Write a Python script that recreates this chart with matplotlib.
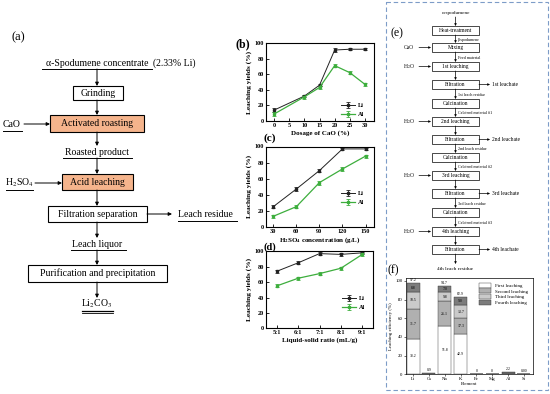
import matplotlib
matplotlib.use("Agg")
from matplotlib import pyplot as plt
from matplotlib.patches import Rectangle, Patch
import numpy as np

plt.rcParams['font.family'] = ['Liberation Serif', 'DejaVu Serif']
plt.rcParams['mathtext.fontset'] = 'stix'

# ---- data: (b) CaO dosage
cao_dose = [0, 10, 15, 20, 25, 30]
cao_li = [14, 32, 46, 91, 92, 92]
cao_al = [9, 31, 43, 71, 62, 47]
cao_li_err = [2.5, 1.5, 1.5, 2, 1.5, 1.5]
cao_al_err = [2, 2.5, 2, 2, 1.5, 1.5]

# ---- (c) H2SO4 concentration
acid_conc = [30, 60, 90, 120, 150]
acid_li = [25, 47, 70, 97, 97]
acid_al = [13, 25, 55, 72, 88]
acid_li_err = [2, 2, 2, 1.5, 1.5]
acid_al_err = [2, 1.5, 2.5, 2, 2]

# ---- (d) liquid-solid ratio
ratio_labels = ['5:1', '6:1', '7:1', '8:1', '9:1']
ratio_li = [74, 85, 97, 96, 98]
ratio_al = [55, 65, 71, 78, 96]
ratio_li_err = [2, 2, 2, 2, 1.5]
ratio_al_err = [2, 2, 2, 2, 2]

# ---- (f) stacked leaching efficiency
elements = ['Li', 'Cs', 'Na', 'K', 'Fe', 'Mg', 'Al', 'Si']
first_leach = [38.2, 0.4, 51.8, 42.9, 0, 0, 0.8, 0]
second_leach = [31.7, 0.2, 26.1, 17.3, 0, 0, 0.5, 0]
third_leach = [18.5, 0.2, 9.8, 13.7, 0, 0, 0.5, 0]
fourth_leach = [8.8, 0.1, 7.0, 9.0, 0, 0, 0.4, 0]
total_labels = ['97.2', '0.9', '94.7', '82.9', '0', '0', '2.2', '0.00']
stage_names = ['First leaching', 'Second leaching', 'Third leaching', 'Fourth leaching']

# ---- (a) flowchart text
a_feed = "α-Spodumene concentrate"
a_feed_note = "(2.33% Li)"
a_steps = ["Grinding", "Activated roasting", "Acid leaching",
           "Filtration separation", "Purification and precipitation"]
a_products = ["Roasted product", "Leach liquor", "Li$_2$CO$_3$"]

# ---- (e) flowchart text
e_boxes = ["Heat-treatment", "Mixing", "1st leaching", "Filtration", "Calcination",
           "2nd leaching", "Filtration", "Calcination", "3rd leaching", "Filtration",
           "Calcination", "4th leaching", "Filtration"]
e_between = ["β-spodumene", "Feed material", "", "1st leach residue",
             "Calcined material #1", "", "2nd leach residue", "Calcined material #2",
             "", "3rd leach residue", "Calcined material #3", ""]
e_left = {1: "CaO", 2: "H$_2$O", 5: "H$_2$O", 8: "H$_2$O", 11: "H$_2$O"}
e_right = {3: "1st leachate", 6: "2nd leachate", 9: "3rd leachate", 12: "4th leachate"}

W, H = 550, 394
GREEN = '#3dae3d'
ORANGE = '#f5b48c'


def frac(l, t, r, b):
  return [l / W, 1 - b / H, (r - l) / W, (b - t) / H]


def arrow(ax, x0, y0, x1, y1, ms=5, lw=0.7):
  ax.annotate('', xy=(x1, y1), xytext=(x0, y0),
              arrowprops=dict(arrowstyle='-|>', lw=lw, color='k',
                              mutation_scale=ms, shrinkA=0, shrinkB=0))


def box(ax, l, t, r, b, text, fc='white', fs=7, lw=0.8):
  ax.add_patch(Rectangle((l, t), r - l, b - t, fc=fc, ec='k', lw=lw))
  ax.text((l + r) / 2, (t + b) / 2, text, ha='center', va='center', fontsize=fs)


def uline(ax, x0, x1, y, lw=0.7):
  ax.plot([x0, x1], [y, y], color='k', lw=lw)


fig = plt.figure(figsize=(5.5, 3.94), dpi=100)
ax0 = fig.add_axes([0, 0, 1, 1])
ax0.set_xlim(0, W)
ax0.set_ylim(H, 0)
ax0.axis('off')

################################ (a)
ax0.text(18, 37, "(a)", ha='center', va='center', fontsize=9)
cx = 97
ax0.text(cx, 63, a_feed, ha='center', va='center', fontsize=7)
ax0.text(153, 63, a_feed_note, ha='left', va='center', fontsize=7)
uline(ax0, 42, 152, 69)
arrow(ax0, cx, 69, cx, 86)
box(ax0, 73, 86, 123, 100, a_steps[0])
arrow(ax0, cx, 100, cx, 115)
box(ax0, 50, 115, 144, 132, a_steps[1], fc=ORANGE)
ax0.text(12, 124, "CaO", ha='center', va='center', fontsize=7)
uline(ax0, 3, 22, 131)
arrow(ax0, 24, 124, 50, 124)
arrow(ax0, cx, 132, cx, 146)
ax0.text(cx, 152, a_products[0], ha='center', va='center', fontsize=7)
uline(ax0, 63, 132, 158)
arrow(ax0, cx, 158, cx, 174)
box(ax0, 62, 174, 133, 190, a_steps[2], fc=ORANGE)
ax0.text(19, 183, "H$_2$SO$_4$", ha='center', va='center', fontsize=7)
uline(ax0, 6, 33, 190)
arrow(ax0, 35, 183, 62, 183)
arrow(ax0, cx, 190, cx, 206)
box(ax0, 48, 206, 147, 222, a_steps[3])
arrow(ax0, 147, 214, 172, 214)
ax0.text(178, 214, "Leach residue", ha='left', va='center', fontsize=7)
uline(ax0, 178, 237, 221)
arrow(ax0, cx, 222, cx, 238)
ax0.text(cx, 244, a_products[1], ha='center', va='center', fontsize=7)
uline(ax0, 71, 126, 250)
arrow(ax0, cx, 250, cx, 265)
box(ax0, 28, 265, 167, 282, a_steps[4])
arrow(ax0, cx, 282, cx, 298)
ax0.text(cx, 304, a_products[2], ha='center', va='center', fontsize=7)
uline(ax0, 82, 113, 311, lw=0.9)
uline(ax0, 82, 113, 312.5, lw=0.6)

################################ (b)-(d)
def style_axes(ax):
  for s in ax.spines.values():
    s.set_linewidth(0.8)
  ax.tick_params(direction='in', length=2, width=0.6, labelsize=4.5, pad=1.5)
  for lab in ax.get_xticklabels() + ax.get_yticklabels():
    lab.set_fontweight('bold')
  ax.set_ylim(0, 100)
  ax.set_yticks([0, 20, 40, 60, 80, 100])
  ax.set_ylabel("Leaching yields (%)", fontsize=5.3, fontweight='bold', labelpad=1.5)


def draw_series(ax, x, li, li_err, al, al_err, leg_pos):
  ax.errorbar(x, li, yerr=li_err, color='#222222', lw=0.7, marker='s', ms=1.5,
              capsize=1.5, elinewidth=0.6, capthick=0.6, label='Li')
  ax.errorbar(x, al, yerr=al_err, color=GREEN, lw=0.9, marker='s', ms=1.5,
              capsize=1.5, elinewidth=0.6, capthick=0.6, label='Al')
  leg = ax.legend(loc='center', bbox_to_anchor=leg_pos, fontsize=4.5, frameon=False,
                  handlelength=2.2, labelspacing=0.6, handletextpad=0.5)
  for t in leg.get_texts():
    t.set_fontweight('bold')


axb = fig.add_axes(frac(266, 43, 374, 121))
draw_series(axb, cao_dose, cao_li, cao_li_err, cao_al, cao_al_err, (0.8, 0.14))
axb.set_xlim(-2.7, 33)
axb.set_xticks([0, 5, 10, 15, 20, 25, 30])
style_axes(axb)
axb.set_xlabel("Dosage of CaO (%)", fontsize=5, fontweight='bold', labelpad=1.5)

axc = fig.add_axes(frac(266, 146.5, 374, 226.7))
draw_series(axc, acid_conc, acid_li, acid_li_err, acid_al, acid_al_err, (0.8, 0.36))
axc.set_xlim(20.5, 161)
axc.set_xticks(acid_conc)
style_axes(axc)
axc.set_xlabel(r"H$_\mathbf{2}$SO$_\mathbf{4}$ concentration (g/L)", fontsize=5,
               fontweight='bold', labelpad=1)

axd = fig.add_axes(frac(266, 251.3, 373, 328.3))
xr = np.arange(len(ratio_labels)) + 5
draw_series(axd, xr, ratio_li, ratio_li_err, ratio_al, ratio_al_err, (0.82, 0.33))
axd.set_xlim(4.5, 9.5)
axd.set_xticks(xr)
axd.set_xticklabels(ratio_labels)
style_axes(axd)
axd.set_xlabel("Liquid-solid ratio (mL/g)", fontsize=5, fontweight='bold', labelpad=1.5)

ax0.text(243, 44, "(b)", ha='center', va='center', fontsize=8.5, fontweight='bold')
ax0.text(270, 138, "(c)", ha='center', va='center', fontsize=8, fontweight='bold')
ax0.text(270, 247, "(d)", ha='center', va='center', fontsize=7.5, fontweight='bold')

################################ (e)
ax0.add_patch(Rectangle((386, 2), 162, 388, fill=False, ec='#7d9cc8', lw=0.8, ls=(0, (4, 2.5))))
ax0.text(397, 33, "(e)", ha='center', va='center', fontsize=8.5)
bl, br = 432, 479
ex = (bl + br) / 2
tops = [26, 43, 62, 80, 99, 117, 135, 153, 171, 189, 208, 227, 245]
bh = 9
ax0.text(ex, 13, "α-spodumene", ha='center', va='center', fontsize=3.8)
arrow(ax0, ex, 17, ex, tops[0], ms=3, lw=0.5)
for i, name in enumerate(e_boxes):
  t = tops[i]
  box(ax0, bl, t, br, t + bh, name, fs=4, lw=0.5)
  if i < len(e_boxes) - 1:
    arrow(ax0, ex, t + bh, ex, tops[i + 1], ms=3, lw=0.5)
    if e_between[i]:
      ax0.text(ex + 2, (t + bh + tops[i + 1]) / 2 + 0.5, e_between[i], ha='left',
               va='center', fontsize=3)
  if i in e_left:
    ax0.text(409, t + bh / 2, e_left[i], ha='center', va='center', fontsize=4)
    arrow(ax0, 419, t + bh / 2, bl - 1, t + bh / 2, ms=3, lw=0.5)
  if i in e_right:
    arrow(ax0, br, t + bh / 2, 490, t + bh / 2, ms=3, lw=0.5)
    ax0.text(492, t + bh / 2, e_right[i], ha='left', va='center', fontsize=4)
arrow(ax0, ex, tops[-1] + bh, ex, 264, ms=3, lw=0.5)
ax0.text(ex, 269, "4th leach residue", ha='center', va='center', fontsize=3.8)

################################ (f)
ax0.text(393, 270, "(f)", ha='center', va='center', fontsize=8.5)
axf = fig.add_axes(frac(405.7, 278, 533, 374.3))
xf = np.arange(len(elements))
stages = [first_leach, second_leach, third_leach, fourth_leach]
colors = ['white', '#b0b0b0', '#cacaca', '#7c7c7c']
bottom = np.zeros(len(elements))
for vals, col, name in zip(stages, colors, stage_names):
  vals = np.array(vals)
  axf.bar(xf, vals, 0.82, bottom=bottom, color=col, edgecolor='#333333', lw=0.3, label=name)
  for xi, v, b0 in zip(xf, vals, bottom):
    if v > 5:
      axf.text(xi, b0 + v / 2, f"{v:.1f}", ha='center', va='center', fontsize=2.8)
  bottom = bottom + vals
for xi, top, lab in zip(xf, bottom, total_labels):
  axf.text(xi, top + 1.2, lab, ha='center', va='bottom', fontsize=2.8)
axf.set_xlim(-0.47, 7.57)
axf.set_ylim(0, 103)
axf.set_yticks([0, 20, 40, 60, 80, 100])
axf.set_xticks(xf)
axf.set_xticklabels(elements)
axf.tick_params(direction='out', length=1.2, width=0.4, labelsize=3.5, pad=1)
for s in axf.spines.values():
  s.set_linewidth(0.5)
axf.set_ylabel("Leaching efficiency (%)", fontsize=3.5, labelpad=1.5)
axf.set_xlabel("Element", fontsize=3.5, labelpad=0.5)
axf.legend(loc='upper right', fontsize=3.6, frameon=False, handlelength=2.5,
           handleheight=1.2, labelspacing=0.1, borderaxespad=0.5)

fig.savefig("out.png", dpi=100)
